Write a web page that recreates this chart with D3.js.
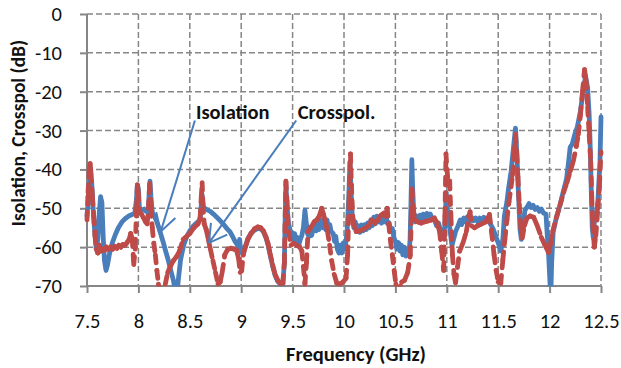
<!DOCTYPE html>
<html>
<head>
<meta charset="utf-8">
<script src="https://cdn.jsdelivr.net/npm/d3@7"></script>
<style>
  body { margin: 0; background: #fff; }
  svg { display: block; font-family: Calibri, Carlito, Lato, sans-serif; }
</style>
</head>
<body>
<svg id="chart" width="621" height="368"></svg>
<script>
// axis ticks
const xTicks = [7.5, 8, 8.5, 9, 9.5, 10, 10.5, 11, 11.5, 12, 12.5];
const yTicks = [0, -10, -20, -30, -40, -50, -60, -70];

// Isolation (blue) [GHz, dB]
const isolation = [
  [7.500,-52],[7.515,-47],[7.530,-42.5],[7.545,-43],[7.560,-50],[7.575,-56],[7.590,-60.5],[7.605,-58],
  [7.620,-51],[7.632,-47],[7.645,-48.5],[7.657,-57],[7.670,-63.5],[7.685,-66],[7.700,-64.5],[7.720,-61.5],
  [7.745,-59],[7.775,-56.8],[7.805,-55],[7.840,-53.5],[7.870,-52.7],[7.905,-52],[7.940,-51.6],[7.965,-51.2],
  [7.980,-48],[7.990,-44],[8.000,-45],[8.010,-50],[8.030,-50.5],[8.055,-50.2],[8.075,-50.8],[8.095,-51.2],
  [8.105,-46],[8.113,-43],[8.122,-47],[8.135,-51],[8.160,-52.3],[8.180,-53.5],[8.210,-56],[8.240,-58.6],
  [8.265,-61],[8.290,-63.3],[8.315,-66],[8.340,-68.5],[8.360,-71.5],[8.375,-72],[8.390,-68],[8.410,-63.3],
  [8.440,-59.5],[8.470,-57.3],[8.500,-55.8],[8.530,-54.7],[8.565,-53.8],[8.600,-53],[8.612,-49],[8.620,-46.5],
  [8.630,-49.6],[8.660,-50.3],[8.700,-50.8],[8.730,-51.5],[8.770,-52.5],[8.800,-53.3],[8.830,-54.2],[8.860,-55.2],
  [8.890,-56],[8.915,-57.2],[8.940,-58.5],[8.960,-59.3],[8.975,-60.3],[8.985,-58],[8.995,-61.2],[9.010,-61.5],
  [9.025,-60.5],[9.045,-59.5],[9.065,-57.8],[9.095,-56.5],[9.130,-55.6],[9.160,-55.2],[9.190,-55.3],[9.215,-56],
  [9.240,-57.5],[9.260,-59.3],[9.280,-61.8],[9.305,-64.8],[9.330,-67.3],[9.355,-68.8],[9.380,-69.5],[9.405,-69.5],
  [9.420,-64],[9.428,-52],[9.435,-44],[9.445,-49],[9.460,-54],[9.480,-56],[9.500,-56.4],[9.512,-58],
  [9.520,-56.5],[9.532,-58.8],[9.545,-57.5],[9.560,-59.5],[9.575,-58],[9.590,-57],[9.605,-55],[9.620,-50.5],
  [9.630,-53],[9.645,-56.5],[9.660,-57.3],[9.672,-55.5],[9.685,-57],[9.700,-55.5],[9.715,-53.5],[9.730,-55.8],
  [9.742,-53.8],[9.755,-55.5],[9.770,-54.5],[9.782,-53],[9.795,-55],[9.810,-53.8],[9.822,-55.5],[9.835,-53],
  [9.850,-55.8],[9.862,-54.2],[9.875,-56],[9.895,-56.5],[9.908,-58.5],[9.920,-57.2],[9.935,-60.5],[9.950,-61.5],
  [9.965,-59.5],[9.980,-61.5],[9.993,-58.9],[10.010,-60.5],[10.030,-56],[10.045,-48],[10.058,-38],[10.068,-45],
  [10.080,-52],[10.095,-55],[10.110,-53.5],[10.125,-56],[10.140,-54.5],[10.155,-56.2],[10.170,-54.3],[10.185,-55.8],
  [10.200,-54.2],[10.215,-55.5],[10.230,-53.8],[10.245,-55],[10.260,-53],[10.275,-54.5],[10.290,-52.3],[10.305,-54],
  [10.320,-52],[10.335,-53.5],[10.350,-52.2],[10.365,-53.8],[10.380,-51.8],[10.395,-53.5],[10.410,-52.3],[10.425,-54],
  [10.440,-53.8],[10.455,-56],[10.470,-55.2],[10.485,-57.5],[10.500,-58.5],[10.515,-60.5],[10.530,-58.8],[10.545,-61],
  [10.558,-59.5],[10.572,-62],[10.588,-60],[10.603,-62.3],[10.618,-60.5],[10.632,-61.5],[10.643,-58],[10.652,-48],
  [10.660,-37.5],[10.668,-45],[10.680,-52],[10.695,-53.5],[10.710,-52],[10.725,-53.2],[10.740,-51.8],[10.755,-53],
  [10.770,-51.5],[10.790,-52.8],[10.805,-51.3],[10.820,-52.5],[10.840,-51.5],[10.860,-52.8],[10.880,-53],[10.900,-54.5],
  [10.920,-53.8],[10.940,-55.8],[10.960,-57],[10.980,-55],[10.995,-46],[11.010,-52],[11.030,-55.3],[11.050,-59.6],
  [11.065,-58.1],[11.085,-56],[11.110,-54.5],[11.130,-53],[11.145,-54.2],[11.165,-52.5],[11.185,-53.5],[11.200,-52.2],
  [11.220,-53.5],[11.240,-52.3],[11.260,-53.2],[11.280,-52.5],[11.300,-53.5],[11.320,-52.5],[11.340,-53.2],[11.360,-52.3],
  [11.380,-53.2],[11.400,-52.8],[11.420,-53.8],[11.450,-55.3],[11.480,-57.5],[11.510,-59.6],[11.525,-61],[11.545,-58],
  [11.560,-52],[11.585,-48.3],[11.600,-45],[11.625,-40.6],[11.650,-34],[11.668,-29.4],[11.682,-36],[11.695,-45],
  [11.712,-55.3],[11.725,-58],[11.740,-55],[11.760,-50.5],[11.780,-49.7],[11.800,-48.8],[11.820,-49.8],[11.840,-49.2],
  [11.860,-50.3],[11.880,-49.8],[11.900,-50.8],[11.920,-50.2],[11.940,-51.2],[11.965,-51.5],[11.975,-56],[11.990,-61.8],
  [12.005,-69.8],[12.012,-72],[12.020,-64],[12.035,-56],[12.065,-52.5],[12.100,-49.3],[12.135,-45.5],[12.165,-42.4],
  [12.185,-38],[12.200,-34.3],[12.220,-33.5],[12.245,-31],[12.270,-29],[12.300,-25],[12.330,-19],[12.350,-16],
  [12.370,-19],[12.385,-26],[12.395,-34],[12.405,-45],[12.415,-55],[12.425,-57.6],[12.440,-52],[12.455,-51.5],
  [12.470,-48],[12.490,-38],[12.500,-26.5]
];

// Crosspol. (red, dashed) [GHz, dB]
const crosspol = [
  [7.500,-53],[7.510,-46],[7.522,-40],[7.530,-38.5],[7.540,-41],[7.552,-47],[7.565,-52],[7.578,-57],
  [7.590,-60.5],[7.605,-61.5],[7.620,-59.5],[7.635,-61],[7.650,-60.5],[7.670,-60.8],[7.690,-60],[7.710,-60.6],
  [7.730,-60],[7.750,-60.5],[7.770,-59.8],[7.790,-60.3],[7.810,-59.5],[7.830,-60],[7.850,-59.3],[7.870,-59.5],
  [7.890,-58.8],[7.910,-58],[7.925,-56.5],[7.940,-57.8],[7.955,-64.5],[7.970,-60],[7.982,-50],[7.990,-44],
  [7.998,-46],[8.010,-51],[8.030,-51.5],[8.050,-52.5],[8.070,-53.5],[8.085,-54],[8.098,-50],[8.110,-43.6],
  [8.122,-50],[8.135,-55],[8.150,-59],[8.165,-62],[8.180,-66],[8.195,-69.5],[8.210,-72],[8.240,-73],
  [8.262,-69.5],[8.285,-66.5],[8.310,-65],[8.340,-63.5],[8.370,-62.5],[8.400,-61],[8.435,-58],[8.470,-57.2],
  [8.500,-56.5],[8.540,-55],[8.580,-54],[8.600,-52.5],[8.612,-47],[8.620,-43.4],[8.628,-49],[8.640,-54],
  [8.660,-55.5],[8.680,-58],[8.700,-60.5],[8.725,-63.5],[8.750,-66.5],[8.775,-69.5],[8.795,-69],[8.815,-66.5],
  [8.840,-62],[8.870,-60.5],[8.900,-60.3],[8.930,-60.5],[8.955,-60.8],[8.975,-63],[8.990,-66.5],[9.005,-66],
  [9.020,-62],[9.040,-60],[9.065,-58],[9.095,-56.5],[9.130,-55.3],[9.160,-54.8],[9.190,-55],[9.215,-55.8],
  [9.240,-57.3],[9.260,-59],[9.280,-61.5],[9.305,-64.5],[9.330,-67],[9.355,-68.5],[9.380,-69.3],[9.405,-69.3],
  [9.420,-64],[9.428,-52],[9.435,-43],[9.445,-48],[9.460,-56],[9.485,-59.5],[9.510,-59],[9.540,-59.5],
  [9.570,-60],[9.590,-61],[9.605,-65],[9.620,-69.5],[9.635,-64],[9.650,-56],[9.680,-54.8],[9.710,-53.5],
  [9.735,-53],[9.760,-52],[9.783,-50],[9.800,-51.5],[9.820,-53.5],[9.840,-56],[9.860,-59.5],[9.880,-63.5],
  [9.905,-67],[9.930,-69.3],[9.960,-69.5],[9.990,-69],[10.020,-68],[10.035,-62],[10.050,-48],[10.063,-36],
  [10.072,-44],[10.085,-52],[10.100,-54.5],[10.120,-56],[10.150,-55.8],[10.180,-55.5],[10.210,-55],[10.240,-54.5],
  [10.270,-53],[10.300,-53.8],[10.330,-53],[10.360,-51.8],[10.385,-51.3],[10.405,-52],[10.420,-50],[10.435,-54],
  [10.450,-58],[10.470,-62],[10.490,-66.5],[10.505,-69.5],[10.530,-72],[10.560,-69],[10.590,-68.5],[10.620,-66.5],
  [10.645,-62],[10.655,-52],[10.662,-45],[10.670,-50],[10.690,-53],[10.720,-53.5],[10.750,-53.8],[10.780,-53.5],
  [10.810,-53.3],[10.850,-53],[10.880,-52.5],[10.910,-54],[10.930,-56],[10.950,-61],[10.970,-66],[10.982,-52],
  [10.992,-36],[11.002,-40],[11.015,-44],[11.028,-43],[11.040,-52],[11.055,-62],[11.070,-67],[11.085,-69.2],
  [11.105,-65],[11.125,-61],[11.160,-58.7],[11.190,-56],[11.215,-52],[11.226,-50.9],[11.240,-54.5],[11.270,-55],
  [11.300,-54.5],[11.340,-54],[11.380,-53.5],[11.415,-51.6],[11.435,-56],[11.460,-62],[11.480,-66],[11.500,-69],
  [11.525,-69.3],[11.545,-63.3],[11.565,-58],[11.585,-53],[11.605,-48.3],[11.625,-44.5],[11.640,-41.4],[11.655,-36],
  [11.668,-31],[11.680,-36],[11.692,-42],[11.705,-49],[11.720,-55],[11.735,-57.6],[11.755,-54.5],[11.780,-52.5],
  [11.810,-52],[11.845,-52.3],[11.880,-54.5],[11.920,-57.5],[11.955,-59.5],[11.990,-61.4],[12.010,-59],[12.030,-56],
  [12.065,-52.5],[12.100,-49.3],[12.135,-46],[12.170,-43.3],[12.200,-40.5],[12.230,-38],[12.260,-34],[12.280,-31],
  [12.300,-26],[12.320,-20],[12.340,-14.3],[12.355,-17],[12.370,-24],[12.385,-31],[12.400,-38],[12.410,-47],
  [12.420,-54],[12.435,-60],[12.450,-57],[12.470,-50],[12.485,-44],[12.500,-35.5]
];

// callouts: label, label anchor, arrow start, arrow tip  (GHz, dB)
const calloutLabels = ["Isolation", "Crosspol."];
const calloutText = [[8.56, -27], [9.55, -27]];
const calloutFrom = [[8.55, -27.4], [9.535, -27.4]];
const calloutTo = [[8.217, -56], [8.687, -58.9]];

const svg = d3.select("#chart");
const W = 621, H = 368;
const margin = { top: 14, right: 20, bottom: 82, left: 87 };
const fontSize = 20.5;

const x = d3.scaleLinear().domain([7.5, 12.5]).range([margin.left, W - margin.right]);
const y = d3.scaleLinear().domain([-70, 0]).range([H - margin.bottom, margin.top]);

const gridColor = "#868686";

// --- grid ---
svg.append("g").selectAll("line").data(yTicks.filter(d => d > -70)).enter()
  .append("line")
    .attr("x1", x(7.5)).attr("x2", x(12.5))
    .attr("y1", d => y(d)).attr("y2", d => y(d))
    .attr("stroke", gridColor).attr("stroke-width", 1.5)
    .attr("stroke-dasharray", "6,3");
svg.append("g").selectAll("line").data(xTicks.filter(d => d > 7.5)).enter()
  .append("line")
    .attr("x1", d => x(d)).attr("x2", d => x(d))
    .attr("y1", y(0)).attr("y2", y(-70))
    .attr("stroke", gridColor).attr("stroke-width", 1.5)
    .attr("stroke-dasharray", "6,3");

// --- axes ---
const yAxis = svg.append("g")
  .attr("transform", `translate(${x(7.5)},0)`)
  .call(d3.axisLeft(y).tickValues(yTicks).tickSize(7).tickPadding(18).tickFormat(d => String(d)));
const xAxis = svg.append("g")
  .attr("transform", `translate(0,${y(-70)})`)
  .call(d3.axisBottom(x).tickValues(xTicks).tickSize(7).tickPadding(20).tickFormat(d => String(d)));

[yAxis, xAxis].forEach(a => {
  a.select(".domain").attr("stroke", gridColor).attr("stroke-width", 2);
  a.selectAll(".tick line").attr("stroke", gridColor).attr("stroke-width", 2);
  a.selectAll(".tick text").attr("fill", "#111").attr("font-size", fontSize)
    .attr("font-family", "Calibri, Carlito, Lato, sans-serif");
});
yAxis.select(".domain").attr("d", `M0,${y(-70)}V${y(0)}`);
xAxis.select(".domain").attr("d", `M${x(7.5)},0H${x(12.5)}`);

// --- data lines ---
svg.append("defs").append("clipPath").attr("id", "plotClip")
  .append("rect")
    .attr("x", x(7.5) - 6).attr("y", 0)
    .attr("width", x(12.5) - x(7.5) + 12).attr("height", y(-70) + 0.5);

const plot = svg.append("g").attr("clip-path", "url(#plotClip)");

const line = d3.line().x(d => x(d[0])).y(d => y(d[1]));

plot.append("path")
  .datum(isolation)
  .attr("d", line)
  .attr("fill", "none")
  .attr("stroke", "#4A7EBB")
  .attr("stroke-width", 4.8)
  .attr("stroke-linejoin", "round")
  .attr("stroke-linecap", "round");

// dashed red, dash restarts per segment like the spreadsheet renderer
plot.append("g").selectAll("line").data(d3.pairs(crosspol)).enter()
  .append("line")
    .attr("x1", d => x(d[0][0])).attr("y1", d => y(d[0][1]))
    .attr("x2", d => x(d[1][0])).attr("y2", d => y(d[1][1]))
    .attr("stroke", "#BE4B48")
    .attr("stroke-width", 4.8)
    .attr("stroke-linecap", "round")
    .attr("stroke-dasharray", "8,7.5");

// --- callouts ---
const arrowColor = "#4A7EBB";
calloutLabels.forEach((label, i) => {
  const x0 = x(calloutFrom[i][0]), y0 = y(calloutFrom[i][1]);
  const x1 = x(calloutTo[i][0]), y1 = y(calloutTo[i][1]);
  const ang = Math.atan2(y0 - y1, x0 - x1);
  const len = 20, spread = Math.PI / 6;
  const g = svg.append("g").attr("stroke", arrowColor).attr("stroke-width", 2).attr("fill", "none");
  g.append("line").attr("x1", x0).attr("y1", y0).attr("x2", x1).attr("y2", y1);
  [-spread, spread].forEach(s => {
    g.append("line")
      .attr("x1", x1).attr("y1", y1)
      .attr("x2", x1 + len * Math.cos(ang + s))
      .attr("y2", y1 + len * Math.sin(ang + s));
  });
  svg.append("text")
    .attr("x", x(calloutText[i][0])).attr("y", y(calloutText[i][1]))
    .attr("font-size", fontSize).attr("font-weight", "bold").attr("fill", "#111")
    .text(label);
});

// --- axis titles ---
svg.append("text")
  .attr("x", 356).attr("y", 361)
  .attr("text-anchor", "middle")
  .attr("font-size", fontSize).attr("font-weight", "bold").attr("fill", "#111")
  .text("Frequency (GHz)");

svg.append("text")
  .attr("transform", `translate(25,${(y(0) + y(-70)) / 2 - 17}) rotate(-90)`)
  .attr("text-anchor", "middle")
  .attr("font-size", 19.5).attr("font-weight", "bold").attr("fill", "#111")
  .text("Isolation, Crosspol (dB)");
</script>
</body>
</html>
